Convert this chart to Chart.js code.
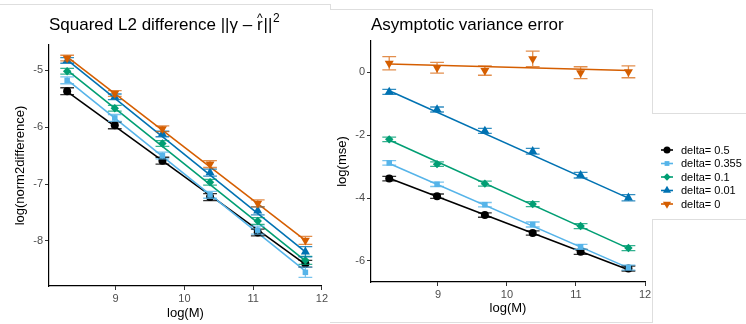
<!DOCTYPE html>
<html>
<head>
<meta charset="utf-8">
<script src="https://cdn.jsdelivr.net/npm/chart.js@4.4.1/dist/chart.umd.min.js"></script>
<style>
    body { margin: 0; background: #ffffff; }
    #wrap { position: relative; width: 746px; height: 324px; overflow: hidden; font-family: "Liberation Sans", Arial, sans-serif; }
    canvas { position: absolute; top: 0; }
    #left-chart { left: 0; }
    #right-chart { left: 330px; }
    .edge { position: absolute; background: #dedede; }
</style>
</head>
<body>
<div id="wrap">
    <canvas id="left-chart" width="330" height="324"></canvas>
    <canvas id="right-chart" width="416" height="324"></canvas>
    <!-- faint panel borders from the screenshot -->
    <div class="edge" style="left:0;top:4px;width:330px;height:1px"></div>
    <div class="edge" style="left:330px;top:4px;width:1px;height:6px"></div>
    <div class="edge" style="left:330px;top:9px;width:322px;height:1px"></div>
    <div class="edge" style="left:652px;top:9px;width:1px;height:104px"></div>
    <div class="edge" style="left:652px;top:113px;width:94px;height:1px"></div>
    <div class="edge" style="left:652px;top:219px;width:94px;height:1px"></div>
    <div class="edge" style="left:652px;top:219px;width:1px;height:103px"></div>
    <div class="edge" style="left:330px;top:322px;width:323px;height:1px"></div>
</div>
<script>
        // Data
        const logM = [8.294, 8.987, 9.680, 10.373, 11.067, 11.760];
        const xTicks = [9, 10, 11, 12];
        const leftYTicks = [-8, -7, -6, -5];
        const rightYTicks = [-6, -4, -2, 0];
        const deltaLabels = ['delta= 0.5', 'delta= 0.355', 'delta= 0.1', 'delta= 0.01', 'delta= 0'];

        // log(norm2difference), one array per delta
        const l2Delta05 = [-5.37, -5.97, -6.59, -7.23, -7.85, -8.40];
        const l2Delta0355 = [-5.18, -5.84, -6.50, -7.19, -7.81, -8.55];
        const l2Delta01 = [-5.02, -5.67, -6.29, -6.97, -7.65, -8.34];
        const l2Delta001 = [-4.83, -5.47, -6.12, -6.80, -7.47, -8.19];
        const l2Delta0 = [-4.79, -5.41, -6.03, -6.65, -7.34, -7.99];

        const l2Err05 = [0.06, 0.06, 0.06, 0.06, 0.06, 0.06];
        const l2Err0355 = [0.06, 0.06, 0.06, 0.06, 0.07, 0.09];
        const l2Err01 = [0.05, 0.05, 0.05, 0.05, 0.06, 0.07];
        const l2Err001 = [0.05, 0.05, 0.05, 0.06, 0.07, 0.09];
        const l2Err0 = [0.05, 0.05, 0.05, 0.06, 0.06, 0.07];

        // fitted line ends
        const l2FitStart = [-5.38, -5.17, -5.00, -4.82, -4.77];
        const l2FitEnd = [-8.41, -8.53, -8.35, -8.19, -7.99];

        // log(mse), one array per delta
        const mseDelta05 = [-3.38, -3.94, -4.54, -5.11, -5.71, -6.24];
        const mseDelta0355 = [-2.88, -3.56, -4.21, -4.84, -5.55, -6.21];
        const mseDelta01 = [-2.13, -2.92, -3.54, -4.19, -4.89, -5.59];
        const mseDelta001 = [-0.62, -1.18, -1.86, -2.51, -3.27, -3.99];
        const mseDelta0 = [0.29, 0.15, 0.06, 0.43, -0.01, 0.02];

        const mseErr05 = [0.07, 0.07, 0.07, 0.07, 0.08, 0.08];
        const mseErr0355 = [0.07, 0.07, 0.07, 0.08, 0.08, 0.08];
        const mseErr01 = [0.07, 0.07, 0.08, 0.08, 0.08, 0.08];
        const mseErr001 = [0.08, 0.08, 0.08, 0.09, 0.09, 0.10];
        const mseErr0 = [0.21, 0.17, 0.15, 0.25, 0.19, 0.19];

        const mseFitStart = [-3.37, -2.90, -2.15, -0.58, 0.27];
        const mseFitEnd = [-6.28, -6.22, -5.60, -4.00, 0.06];

        // Styles
        const seriesColors = ['#000000', '#56B4E9', '#009E73', '#0072B2', '#D55E00'];
        const barColors = ['rgba(0,0,0,0.8)', 'rgba(86,180,233,0.8)', 'rgba(0,158,115,0.8)', 'rgba(0,114,178,0.8)', 'rgba(213,94,0,0.7)'];
        const pointStyles = ['circle', 'rect', 'rectRot', 'triangle', 'triangle'];
        const pointRotations = [0, 0, 0, 0, 180];
        const pointRadii = [4, 3.9, 4.2, 5.2, 5.2];
        const FONT = '"Liberation Sans", Arial, sans-serif';

        function buildDatasets(values, errors, fitStart, fitEnd) {
            const sets = [];
            values.forEach((vals, i) => {
                // fitted line, drawn under every marker
                sets.push({
                    type: 'line',
                    data: [{ x: logM[0], y: fitStart[i] }, { x: logM[logM.length - 1], y: fitEnd[i] }],
                    borderColor: seriesColors[i],
                    borderWidth: 1.6,
                    pointRadius: 0,
                    fill: false,
                    order: 20 - i
                });
                sets.push({
                    type: 'scatter',
                    data: logM.map((x, k) => ({ x: x, y: vals[k] })),
                    errors: errors[i],
                    barColor: barColors[i],
                    backgroundColor: seriesColors[i],
                    borderColor: seriesColors[i],
                    borderWidth: 0,
                    pointStyle: pointStyles[i],
                    rotation: pointRotations[i],
                    pointRadius: pointRadii[i],
                    order: 10 - i
                });
            });
            return sets;
        }

        // Error bars, drawn just before each marker dataset
        const errorBarPlugin = {
            id: 'errorBars',
            beforeDatasetDraw(chart, args) {
                const ds = chart.data.datasets[args.index];
                if (!ds.errors) return;
                const xs = chart.scales.x;
                const ys = chart.scales.y;
                const ctx = chart.ctx;
                ctx.save();
                ctx.strokeStyle = ds.barColor;
                ctx.lineWidth = 1.3;
                ds.data.forEach((p, k) => {
                    const e = ds.errors[k];
                    const px = xs.getPixelForValue(p.x);
                    const x0 = xs.getPixelForValue(p.x - 0.1);
                    const x1 = xs.getPixelForValue(p.x + 0.1);
                    const top = ys.getPixelForValue(p.y + e);
                    const bot = ys.getPixelForValue(p.y - e);
                    ctx.beginPath();
                    ctx.moveTo(px, top); ctx.lineTo(px, bot);
                    ctx.moveTo(x0, top); ctx.lineTo(x1, top);
                    ctx.moveTo(x0, bot); ctx.lineTo(x1, bot);
                    ctx.stroke();
                });
                ctx.restore();
            }
        };

        // Left title with the hat over r and the squared exponent
        const leftTitlePlugin = {
            id: 'leftTitle',
            afterDraw(chart) {
                const ctx = chart.ctx;
                ctx.save();
                ctx.fillStyle = '#000000';
                ctx.textBaseline = 'alphabetic';
                ctx.font = '17px ' + FONT;
                let x = 49;
                const y = 30;
                const head = 'Squared L2 difference ||\u03b3 \u2013 ';
                ctx.fillText(head, x, y);
                x += ctx.measureText(head).width;
                const rw = ctx.measureText('r').width;
                ctx.fillText('r', x, y);
                ctx.font = '12px ' + FONT;
                ctx.textAlign = 'center';
                ctx.fillText('^', x + rw / 2, y - 8);
                ctx.textAlign = 'left';
                ctx.font = '17px ' + FONT;
                x += rw + 1;
                ctx.fillText('||', x, y);
                x += ctx.measureText('||').width;
                ctx.font = '12px ' + FONT;
                ctx.fillText('2', x + 0.5, y - 8);
                ctx.restore();
            }
        };

        const rightTitlePlugin = {
            id: 'rightTitle',
            afterDraw(chart) {
                const ctx = chart.ctx;
                ctx.save();
                ctx.fillStyle = '#000000';
                ctx.font = '17px ' + FONT;
                ctx.fillText('Asymptotic variance error', 41, 30);
                ctx.restore();
            }
        };

        // Legend to the right of the second panel
        const legendPlugin = {
            id: 'deltaLegend',
            afterDraw(chart) {
                const ctx = chart.ctx;
                const rows = [150, 163.5, 177, 190.5, 204];
                ctx.save();
                deltaLabels.forEach((label, i) => {
                    const cy = rows[i];
                    ctx.strokeStyle = seriesColors[i];
                    ctx.lineWidth = 1.6;
                    ctx.beginPath();
                    ctx.moveTo(331, cy); ctx.lineTo(343, cy);
                    ctx.stroke();
                    ctx.fillStyle = seriesColors[i];
                    Chart.helpers.drawPoint(ctx, {
                        pointStyle: pointStyles[i],
                        rotation: pointRotations[i],
                        radius: pointRadii[i] - 0.5,
                        borderWidth: 0
                    }, 337, cy);
                    ctx.fillStyle = '#000000';
                    ctx.font = '11px ' + FONT;
                    ctx.textBaseline = 'middle';
                    ctx.fillText(label, 351, cy + 0.5);
                });
                ctx.restore();
            }
        };

        function axisOptions(opts) {
            return {
                x: {
                    type: 'linear',
                    min: 8.03,
                    max: 12.0,
                    afterBuildTicks: (s) => { s.ticks = xTicks.map(v => ({ value: v })); },
                    afterFit: (s) => { s.height = opts.xHeight; },
                    border: { display: true, color: '#000000', width: 1.2 },
                    grid: { drawOnChartArea: false, drawTicks: true, tickLength: 4, color: '#333333' },
                    ticks: { color: '#4d4d4d', font: { family: FONT, size: 11 }, padding: 2, maxRotation: 0 },
                    title: { display: true, text: 'log(M)', color: '#000000', font: { family: FONT, size: 13 }, padding: { top: 0, bottom: opts.xTitlePad } }
                },
                y: {
                    type: 'linear',
                    min: opts.yMin,
                    max: opts.yMax,
                    afterBuildTicks: (s) => { s.ticks = opts.yTicks.map(v => ({ value: v })); },
                    afterFit: (s) => { s.width = opts.yWidth; },
                    border: { display: true, color: '#000000', width: 1.2 },
                    grid: { drawOnChartArea: false, drawTicks: true, tickLength: 4, color: '#333333' },
                    ticks: { color: '#4d4d4d', font: { family: FONT, size: 11 }, padding: 2 },
                    title: { display: true, text: opts.yTitle, color: '#000000', font: { family: FONT, size: 13 }, padding: { top: opts.yTitlePad, bottom: 0 } }
                }
            };
        }

        function makeChart(id, datasets, padding, scales, plugins) {
            return new Chart(document.getElementById(id).getContext('2d'), {
                type: 'scatter',
                data: { datasets: datasets },
                options: {
                    responsive: false,
                    animation: false,
                    devicePixelRatio: 1,
                    layout: { padding: padding },
                    plugins: { legend: { display: false }, tooltip: { enabled: false } },
                    scales: scales
                },
                plugins: plugins
            });
        }

        // Initialize
        const leftChart = makeChart('left-chart',
            buildDatasets([l2Delta05, l2Delta0355, l2Delta01, l2Delta001, l2Delta0],
                [l2Err05, l2Err0355, l2Err01, l2Err001, l2Err0], l2FitStart, l2FitEnd),
            { top: 45, right: 7, bottom: 0, left: 0 },
            axisOptions({ yMin: -8.79, yMax: -4.56, yTicks: leftYTicks, yTitle: 'log(norm2difference)', yWidth: 49, xHeight: 38, xTitlePad: 3, yTitlePad: 13 }),
            [errorBarPlugin, leftTitlePlugin]);

        const rightChart = makeChart('right-chart',
            buildDatasets([mseDelta05, mseDelta0355, mseDelta01, mseDelta001, mseDelta0],
                [mseErr05, mseErr0355, mseErr01, mseErr001, mseErr0], mseFitStart, mseFitEnd),
            { top: 41, right: 101, bottom: 0, left: 0 },
            axisOptions({ yMin: -6.67, yMax: 1.0, yTicks: rightYTicks, yTitle: 'log(mse)', yWidth: 41, xHeight: 42, xTitlePad: 8, yTitlePad: 5 }),
            [errorBarPlugin, rightTitlePlugin, legendPlugin]);
</script>
</body>
</html>
